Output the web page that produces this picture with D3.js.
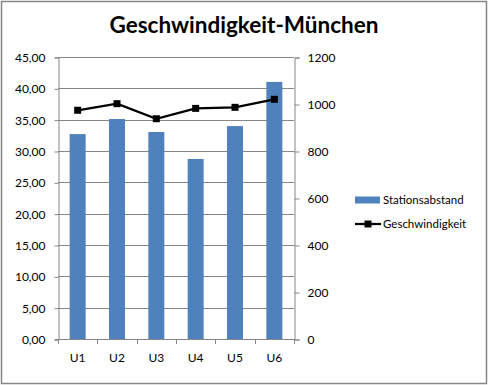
<!DOCTYPE html>
<html>
<head>
<meta charset="utf-8">
<script src="https://cdn.jsdelivr.net/npm/d3@7"></script>
<style>
  body { margin: 0; background: #fff; }
  text { font-family: Lato, "Open Sans", sans-serif; fill: #000; }
</style>
</head>
<body>
<div id="chart"></div>
<script>
// data
var lines = ["U1", "U2", "U3", "U4", "U5", "U6"];
var stationsabstand = [872, 936, 881, 766, 906, 1094];   // right axis
var geschwindigkeit = [36.5, 37.55, 35.15, 36.8, 36.97, 38.25]; // left axis
var leftTicks = [0, 5, 10, 15, 20, 25, 30, 35, 40, 45];
var rightTicks = [0, 200, 400, 600, 800, 1000, 1200];

var W = 488, H = 385;
var plot = {left: 58, right: 294, top: 57, bottom: 339};

var svg = d3.select("#chart").append("svg")
    .attr("width", W)
    .attr("height", H);

// chart border
svg.append("rect")
    .attr("x", 1.5).attr("y", 1.5)
    .attr("width", 485).attr("height", 382)
    .attr("fill", "#fff")
    .attr("stroke", "#868686")
    .attr("stroke-width", 1.5);

svg.append("text")
    .attr("x", 244).attr("y", 33)
    .attr("text-anchor", "middle")
    .style("font-size", "22.5px")
    .style("font-weight", "bold")
    .text("Geschwindigkeit-München");

var x = d3.scaleBand().domain(lines).range([plot.left, plot.right]);
var yL = d3.scaleLinear().domain([0, 45]).range([plot.bottom, plot.top]);
var yR = d3.scaleLinear().domain([0, 1200]).range([plot.bottom, plot.top]);

// gridlines
svg.append("g").selectAll("line")
    .data(leftTicks.slice(1))
    .enter().append("line")
    .attr("x1", plot.left).attr("x2", plot.right)
    .attr("y1", function(d) { return Math.round(yL(d)) + 0.5; })
    .attr("y2", function(d) { return Math.round(yL(d)) + 0.5; })
    .attr("stroke", "#868686");

// left axis
var gL = svg.append("g")
    .attr("transform", "translate(" + (plot.left + 0.5) + ",0.5)")
    .call(d3.axisLeft(yL).tickValues(leftTicks).tickSize(4).tickPadding(9)
        .tickFormat(function(d) { return d3.format(".2f")(d).replace(".", ","); }));

// right axis
var gR = svg.append("g")
    .attr("transform", "translate(" + (plot.right + 0.5) + ",0.5)")
    .call(d3.axisRight(yR).tickValues(rightTicks).tickSize(5).tickPadding(8)
        .tickFormat(d3.format("d")));

// bottom axis
var gB = svg.append("g")
    .attr("transform", "translate(0," + (plot.bottom + 0.5) + ")")
    .call(d3.axisBottom(x).tickSize(0).tickPadding(14));

[gL, gR, gB].forEach(function(g) {
    g.select(".domain").attr("stroke", "#868686");
    g.selectAll(".tick line").attr("stroke", "#868686");
    g.selectAll(".tick text").style("font-size", "12px").attr("fill", "#000");
});
gB.select(".domain").attr("d", "M" + (plot.left - 3) + ",0H" + plot.right);

// category boundary ticks
svg.append("g").selectAll("line")
    .data(d3.range(lines.length + 1))
    .enter().append("line")
    .attr("x1", function(i) { return Math.round(plot.left + i * x.step()) + 0.5; })
    .attr("x2", function(i) { return Math.round(plot.left + i * x.step()) + 0.5; })
    .attr("y1", plot.bottom).attr("y2", plot.bottom + 5)
    .attr("stroke", "#868686");

// bars
var barW = 16;
svg.append("g").selectAll("rect")
    .data(stationsabstand)
    .enter().append("rect")
    .attr("x", function(d, i) { return x(lines[i]) + x.bandwidth() / 2 - barW / 2; })
    .attr("y", function(d) { return yR(d); })
    .attr("width", barW)
    .attr("height", function(d) { return plot.bottom - yR(d); })
    .attr("fill", "#4f81bd");

// line
var line = d3.line()
    .x(function(d, i) { return x(lines[i]) + x.bandwidth() / 2; })
    .y(function(d) { return yL(d); });

svg.append("path")
    .datum(geschwindigkeit)
    .attr("d", line)
    .attr("fill", "none")
    .attr("stroke", "#000")
    .attr("stroke-width", 2.25);

svg.append("g").selectAll("rect")
    .data(geschwindigkeit)
    .enter().append("rect")
    .attr("x", function(d, i) { return x(lines[i]) + x.bandwidth() / 2 - 3.5; })
    .attr("y", function(d) { return yL(d) - 3.5; })
    .attr("width", 7).attr("height", 7)
    .attr("fill", "#000");

// legend
var legend = svg.append("g").attr("transform", "translate(355,200)");
legend.append("rect")
    .attr("x", 0).attr("y", -3.5)
    .attr("width", 25).attr("height", 7)
    .attr("fill", "#4f81bd");
legend.append("text")
    .attr("x", 28).attr("y", 4)
    .style("font-size", "11.5px")
    .text("Stationsabstand");
legend.append("line")
    .attr("x1", 0).attr("x2", 26)
    .attr("y1", 24).attr("y2", 24)
    .attr("stroke", "#000").attr("stroke-width", 2.25);
legend.append("rect")
    .attr("x", 9.5).attr("y", 20.5)
    .attr("width", 7).attr("height", 7)
    .attr("fill", "#000");
legend.append("text")
    .attr("x", 28).attr("y", 28)
    .style("font-size", "11.5px")
    .text("Geschwindigkeit");
</script>
</body>
</html>
